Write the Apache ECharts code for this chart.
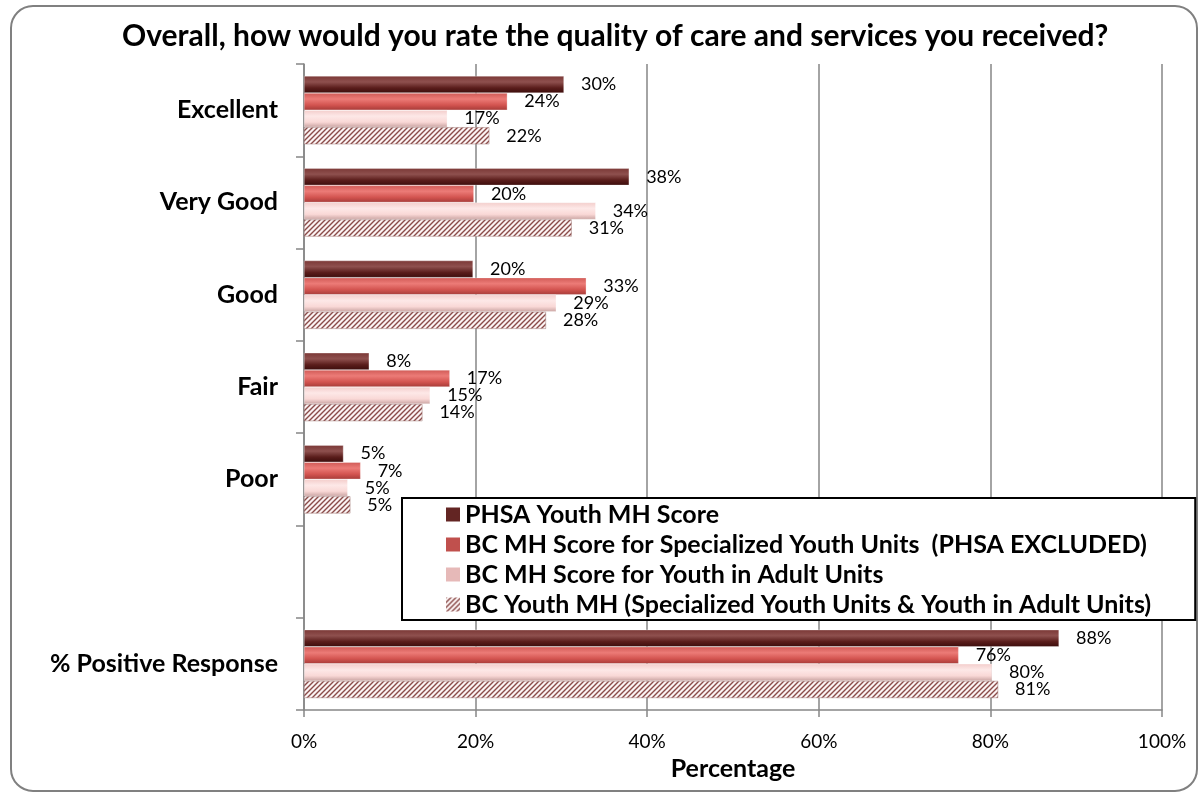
<!DOCTYPE html>
<html><head><meta charset="utf-8">
<script src="https://cdn.jsdelivr.net/npm/echarts@6/dist/echarts.min.js"></script>
<style>html,body{margin:0;padding:0;background:#fff}#c{width:1200px;height:794px}</style>
</head><body><div id="c"></div>
<script>
const categories = ['Excellent', 'Very Good', 'Good', 'Fair', 'Poor', '', '% Positive Response'];
const seriesNames = [
  'PHSA Youth MH Score',
  'BC MH Score for Specialized Youth Units  (PHSA EXCLUDED)',
  'BC MH Score for Youth in Adult Units',
  'BC Youth MH (Specialized Youth Units & Youth in Adult Units)'
];
const phsa = [30.3, 37.9, 19.7, 7.6, 4.6, null, 88.0];
const bcSpecialized = [23.7, 19.8, 32.9, 17.0, 6.6, null, 76.3];
const bcAdult = [16.7, 34.0, 29.4, 14.7, 5.1, null, 80.2];
const bcYouth = [21.6, 31.2, 28.2, 13.8, 5.4, null, 80.9];
const xTicks = [0, 20, 40, 60, 80, 100];

const FONT = 'Lato';
const chart = echarts.init(document.getElementById('c'));

function hatch() {
  const s = 5;
  const cv = document.createElement('canvas');
  cv.width = s; cv.height = s;
  const g = cv.getContext('2d');
  g.fillStyle = '#fbf3f3'; g.fillRect(0, 0, s, s);
  g.strokeStyle = '#8a4b49'; g.lineWidth = 1.4;
  g.beginPath();
  g.moveTo(0, s); g.lineTo(s, 0);
  g.moveTo(-1, 1); g.lineTo(1, -1);
  g.moveTo(s - 1, s + 1); g.lineTo(s + 1, s - 1);
  g.stroke();
  return cv;
}
const grad = (a, b, c, d) => new echarts.graphic.LinearGradient(0, 0, 0, 1, [
  {offset: 0, color: a}, {offset: 0.35, color: b}, {offset: 0.7, color: c}, {offset: 1, color: d}]);

const styles = [
  {fill: grad('#7b3836', '#8e504e', '#5a1d1b', '#3c0d0c'), legend: '#632523'},
  {fill: grad('#d05a56', '#ec7b77', '#d35450', '#a63b38'), legend: '#c0504d'},
  {fill: grad('#f3cdcb', '#fde8e7', '#f9d8d6', '#c9a3a1'), legend: '#e6b9b8'},
  {fill: {image: hatch(), repeat: 'repeat'}, legend: {image: hatch(), repeat: 'repeat'}}
];
const datasets = [phsa, bcSpecialized, bcAdult, bcYouth];

const series = datasets.map((d, i) => ({
  name: seriesNames[i],
  type: 'bar',
  data: d,
  barGap: '0%',
  barCategoryGap: '26%',
  itemStyle: {color: styles[i].fill, borderColor: i === 3 ? '#a07a79' : 'rgba(255,255,255,0.6)', borderWidth: 0.5},
  label: {
    show: true, position: 'right', distance: 17,
    fontFamily: FONT, fontSize: 18, color: '#000',
    formatter: p => (p.value == null ? '' : Math.round(p.value) + '%')
  },
  emphasis: {disabled: true},
  z: 2
}));

chart.setOption({
  animation: false,
  backgroundColor: '#fff',
  title: {
    text: 'Overall, how would you rate the quality of care and services you received?',
    left: 117, top: 16,
    textStyle: {fontFamily: FONT, fontWeight: 'bold', fontSize: 30, color: '#000'}
  },
  graphic: [{
    type: 'rect', shape: {x: 11, y: 6, width: 1186, height: 785, r: 22},
    style: {fill: 'none', stroke: '#808080', lineWidth: 2}, z: -1
  }],
  legend: {
    orient: 'vertical', left: 402, top: 498,
    padding: [4, 44, 3, 44],
    itemGap: 5, itemWidth: 14, itemHeight: 14,
    backgroundColor: '#fff', borderColor: '#000', borderWidth: 2,
    textStyle: {fontFamily: FONT, fontWeight: 'bold', fontSize: 25, color: '#000'},
    data: seriesNames.map((n, i) => ({name: n, icon: 'rect', itemStyle: {color: styles[i].legend, borderWidth: 0}})),
    z: 10
  },
  grid: {left: 304, right: 38, top: 64, bottom: 84, containLabel: false},
  xAxis: {
    type: 'value', min: 0, max: 100, interval: 20,
    axisLine: {show: true, lineStyle: {color: '#868686', width: 1.5}},
    axisTick: {show: true, length: 7, lineStyle: {color: '#868686', width: 1.5}},
    splitLine: {show: true, lineStyle: {color: '#868686', width: 1.5}},
    axisLabel: {
      fontFamily: FONT, fontSize: 19, color: '#000', margin: 22,
      formatter: v => (xTicks.includes(v) ? v + '%' : '')
    },
    name: 'Percentage', nameLocation: 'middle', nameGap: 46,
    nameTextStyle: {fontFamily: FONT, fontWeight: 'bold', fontSize: 25, color: '#000'}
  },
  yAxis: {
    type: 'category', data: categories, inverse: true,
    axisLine: {show: true, lineStyle: {color: '#868686', width: 1.5}},
    axisTick: {show: true, length: 8, interval: 0, lineStyle: {color: '#868686', width: 1.5}},
    axisLabel: {fontFamily: FONT, fontWeight: 'bold', fontSize: 25, color: '#000', margin: 26, interval: 0}
  },
  series: series
});
</script></body></html>
